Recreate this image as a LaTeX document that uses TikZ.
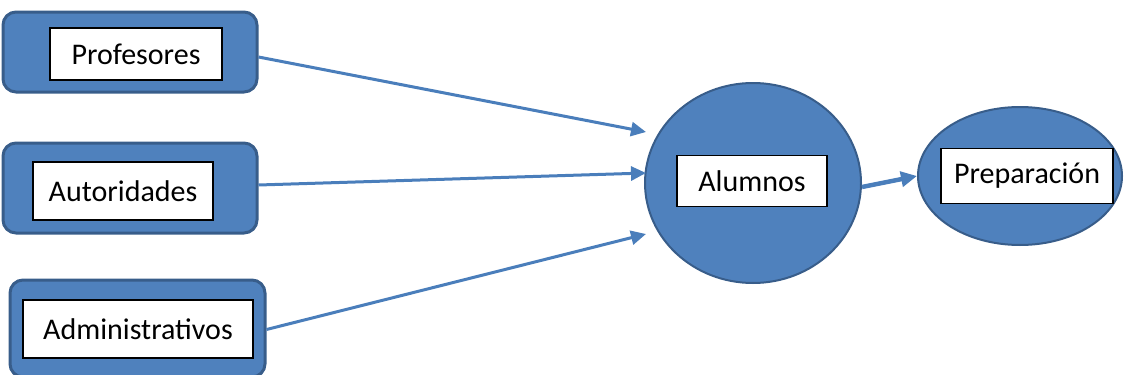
\documentclass[tikz,border=0pt]{standalone}
\usepackage{fontspec}
\setmainfont{Carlito}
\usetikzlibrary{shapes.geometric,arrows.meta}
\definecolor{bluefill}{HTML}{4F81BD}
\definecolor{blueline}{HTML}{385D8A}
\definecolor{arrowblue}{HTML}{4A7EBB}
\tikzset{
  outerbox/.style={draw=blueline,fill=bluefill,line width=3pt,rounded corners=13pt,inner sep=0pt},
  innerbox/.style={draw=black,fill=white,line width=1.4pt,inner sep=0pt,font=\fontsize{30}{34}\selectfont},
  bubble/.style={ellipse,draw=blueline,fill=bluefill,line width=2pt,inner sep=0pt},
  conn/.style={draw=arrowblue,line width=3pt,-{Triangle[length=15pt,width=14pt]}},
  thickconn/.style={draw=arrowblue,line width=4.5pt,-{Triangle[length=16pt,width=15pt]}}
}
\begin{document}
\begin{tikzpicture}[x=1pt,y=-1pt]
\useasboundingbox (0,0) rectangle (1125,375);
% left boxes
\node[outerbox,minimum width=254pt,minimum height=80pt] (Pout) at (130,52) {};
\node[innerbox,minimum width=172pt,minimum height=52pt] (Pin) at (136,54) {Profesores};
\node[outerbox,minimum width=254pt,minimum height=90pt] (Aout) at (130,188) {};
\node[innerbox,minimum width=180pt,minimum height=58pt] (Ain) at (123,191) {Autoridades};
\node[outerbox,minimum width=255pt,minimum height=97pt] (Dout) at (137.5,328.5) {};
\node[innerbox,minimum width=230pt,minimum height=58pt] (Din) at (138,329) {Administrativos};
% Alumnos
\node[bubble,minimum width=216pt,minimum height=200pt] (Al) at (753,183) {};
\node[innerbox,minimum width=150pt,minimum height=51pt] (Alin) at (752,181) {Alumnos};
% Preparación
\node[bubble,minimum width=204pt,minimum height=138pt] (Pr) at (1020,176) {};
\node[innerbox,minimum width=172pt,minimum height=55pt] (Prin) at (1027,176) {Preparación};
% arrow tips
\coordinate (tipP) at (646,132);
\coordinate (tipA) at (646,173);
\coordinate (tipD) at (646,234);
% connectors
\draw[conn] ([yshift=-5pt]Pout.east) -- (tipP);
\draw[conn] ([yshift=3pt]Aout.east) -- (tipA);
\draw[conn] ([yshift=-1pt]Dout.east) -- (tipD);
\draw[thickconn] ([yshift=-4pt]Al.east) -- (Pr.west);
\end{tikzpicture}
\end{document}
